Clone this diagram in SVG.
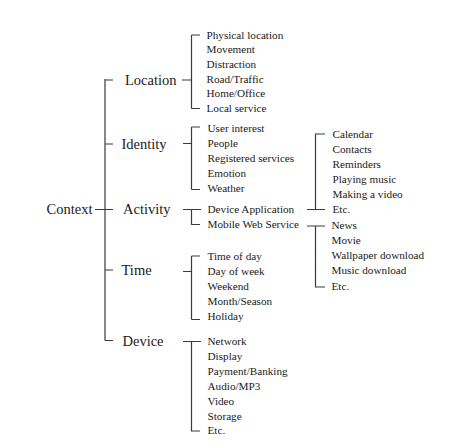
<svg xmlns="http://www.w3.org/2000/svg" width="465" height="448" viewBox="0 0 465 448">
<style>
.l1{font-family:"Liberation Serif",serif;font-size:14.5px;fill:#1a1a1a}
.l2{font-family:"Liberation Serif",serif;font-size:11.2px;fill:#1a1a1a}
.c{stroke:#3a3a3a;stroke-width:1.2;fill:none}
</style>
<rect width="465" height="448" fill="#fff"/>
<g id="connectors" class="c">
<path d="M95 209.5H113M105 79V340.5M105 80H113M105 144H113M105 270H113M105 340.5H113"/>
<path d="M182 80H191.5M191.5 35V108.5M191.5 35H200M191.5 108.5H200"/>
<path d="M183 143.5H191.5M191.5 127V189.5M191.5 127H200M191.5 189.5H200"/>
<path d="M183 209.5H201M191.5 209.5V224.5H200"/>
<path d="M307 209.5H325M315.5 209.5V134H325"/>
<path d="M307 226H325M315.5 226V287H325"/>
<path d="M183 271.5H191.5M191.5 256V319.5M191.5 256H200M191.5 319.5H200"/>
<path d="M183 341.5H201M191.5 341.5V431H200"/>
</g>
<g id="context"><text class="l1" x="46.5" y="213.5">Context</text></g>
<g id="location">
<text class="l1" x="125" y="85">Location</text>
<text class="l2" x="206.5" y="38.5">Physical location</text>
<text class="l2" x="206.5" y="53.2">Movement</text>
<text class="l2" x="206.5" y="67.9">Distraction</text>
<text class="l2" x="206.5" y="82.6">Road/Traffic</text>
<text class="l2" x="206.5" y="97.3">Home/Office</text>
<text class="l2" x="206.5" y="112">Local service</text>
</g>
<g id="identity">
<text class="l1" x="121.5" y="148.5">Identity</text>
<text class="l2" x="207.5" y="132">User interest</text>
<text class="l2" x="207.5" y="147">People</text>
<text class="l2" x="207.5" y="162">Registered services</text>
<text class="l2" x="207.5" y="177">Emotion</text>
<text class="l2" x="207.5" y="192">Weather</text>
</g>
<g id="activity">
<text class="l1" x="123" y="214">Activity</text>
<text class="l2" x="207.5" y="213">Device Application</text>
<text class="l2" x="207.5" y="228">Mobile Web Service</text>
</g>
<g id="device-application">
<text class="l2" x="332.5" y="137.5">Calendar</text>
<text class="l2" x="332.5" y="152.5">Contacts</text>
<text class="l2" x="332.5" y="167.5">Reminders</text>
<text class="l2" x="332.5" y="182.5">Playing music</text>
<text class="l2" x="332.5" y="197.5">Making a video</text>
<text class="l2" x="332.5" y="213">Etc.</text>
</g>
<g id="mobile-web-service">
<text class="l2" x="331.5" y="228.5">News</text>
<text class="l2" x="331.5" y="244">Movie</text>
<text class="l2" x="331.5" y="259">Wallpaper download</text>
<text class="l2" x="331.5" y="274">Music download</text>
<text class="l2" x="331.5" y="290">Etc.</text>
</g>
<g id="time">
<text class="l1" x="121.5" y="274.5">Time</text>
<text class="l2" x="207.5" y="260">Time of day</text>
<text class="l2" x="207.5" y="275">Day of week</text>
<text class="l2" x="207.5" y="290">Weekend</text>
<text class="l2" x="207.5" y="305">Month/Season</text>
<text class="l2" x="207.5" y="320">Holiday</text>
</g>
<g id="device">
<text class="l1" x="122.5" y="345.5">Device</text>
<text class="l2" x="207.5" y="345">Network</text>
<text class="l2" x="207.5" y="360">Display</text>
<text class="l2" x="207.5" y="375">Payment/Banking</text>
<text class="l2" x="207.5" y="390">Audio/MP3</text>
<text class="l2" x="207.5" y="405">Video</text>
<text class="l2" x="207.5" y="420">Storage</text>
<text class="l2" x="207.5" y="434">Etc.</text>
</g>
</svg>
